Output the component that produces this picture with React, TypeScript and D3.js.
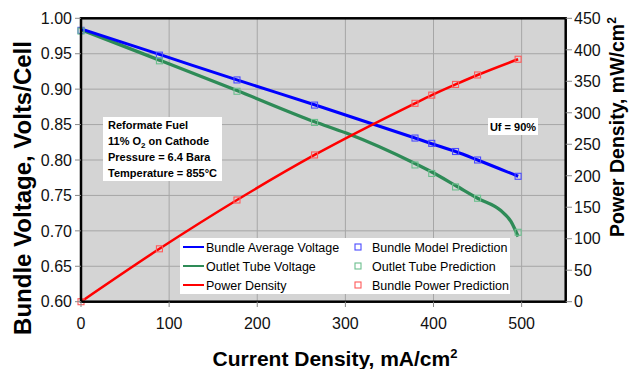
import React from "react";
import * as d3 from "d3";

// ---- data ----
const currentPts = [0, 89, 177, 265, 379, 398, 425, 450, 496];
const bundleModel = [0.983, 0.948, 0.913, 0.8775, 0.831, 0.8235, 0.812, 0.8, 0.777];
const outletPred = [0.982, 0.94, 0.897, 0.853, 0.793, 0.781, 0.762, 0.746, 0.698];
const powerPred = [0, 84, 161.5, 233, 315, 328, 345, 360, 385];

const bundleLineI = [0, 89, 177, 265, 379, 398, 425, 450, 496];
const bundleLineV = [0.985, 0.949, 0.913, 0.878, 0.831, 0.823, 0.812, 0.8, 0.777];
const outletLineI = [0, 89, 177, 265, 301, 379, 398, 425, 450, 476, 488, 496];
const outletLineV = [0.984, 0.941, 0.898, 0.854, 0.838, 0.795, 0.783, 0.764, 0.746, 0.729, 0.713, 0.692];
const powerLineI = [0, 89, 177, 265, 379, 398, 425, 450, 496];
const powerLineP = [0, 84, 161.5, 233, 315, 328, 345, 360, 385];

const xTicks = [0, 100, 200, 300, 400, 500];
const yLeftTicks = [0.6, 0.65, 0.7, 0.75, 0.8, 0.85, 0.9, 0.95, 1.0];
const yRightTicks = [0, 50, 100, 150, 200, 250, 300, 350, 400, 450];

const noteLines = ["Reformate Fuel", "11% O|2| on Cathode", "Pressure = 6.4 Bara", "Temperature = 855°C"];
const legendLines = [
  { label: "Bundle Average Voltage", color: "#0000ff" },
  { label: "Outlet Tube Voltage", color: "#2e8b57" },
  { label: "Power Density", color: "#ff0000" },
];
const legendMarkers = [
  { label: "Bundle Model Prediction", color: "#4a4aff" },
  { label: "Outlet Tube Prediction", color: "#6cbf8e" },
  { label: "Bundle Power Prediction", color: "#ff5a5a" },
];

const FONT = "'Liberation Sans', Arial, sans-serif";

export default function App() {
  const L = 81, R = 565.7, T = 18.3, B = 301.7;
  const x = d3.scaleLinear().domain([0, 550]).range([L, R]);
  const yL = d3.scaleLinear().domain([0.6, 1.0]).range([B, T]);
  const yR = d3.scaleLinear().domain([0, 450]).range([B, T]);

  const lineL = d3.line<[number, number]>().x(d => x(d[0])).y(d => yL(d[1])).curve(d3.curveMonotoneX);
  const lineR = d3.line<[number, number]>().x(d => x(d[0])).y(d => yR(d[1])).curve(d3.curveMonotoneX);

  const bundlePath = lineL(bundleLineI.map((v, i) => [v, bundleLineV[i]]));
  const outletPath = lineL(outletLineI.map((v, i) => [v, outletLineV[i]]));
  const powerPath = lineR(powerLineI.map((v, i) => [v, powerLineP[i]]));

  const sq = 6;
  const square = (cx: number, cy: number, color: string, key: string) => (
    <rect key={key} x={cx - sq / 2} y={cy - sq / 2} width={sq} height={sq} fill="none" stroke={color} strokeWidth={1.1} />
  );

  const renderNote = (s: string, i: number) => {
    const parts = s.split("|");
    return (
      <text key={i} x={108} y={129 + i * 16} fontSize={11} fontWeight="bold" fontFamily={FONT} fill="#000">
        {parts.length === 1 ? s : (
          <>
            {parts[0]}
            <tspan fontSize={8} dy={3}>{parts[1]}</tspan>
            <tspan dy={-3}>{parts[2]}</tspan>
          </>
        )}
      </text>
    );
  };

  return (
    <svg width={630} height={369} style={{ position: "absolute", left: 0, top: 0, background: "#fff" }}>
      {/* plot background */}
      <rect x={L} y={T} width={R - L} height={B - T} fill="#d4d4d4" />
      {/* grid */}
      {yLeftTicks.slice(1, -1).map(t => (
        <line key={"gh" + t} x1={L} x2={R} y1={yL(t)} y2={yL(t)} stroke="#a6a6a6" strokeWidth={1} />
      ))}
      {xTicks.slice(1).map(t => (
        <line key={"gv" + t} x1={x(t)} x2={x(t)} y1={T} y2={B} stroke="#a6a6a6" strokeWidth={1} />
      ))}

      {/* annotation boxes */}
      <rect x={103} y={117} width={119} height={64} fill="#fff" />
      {noteLines.map(renderNote)}
      <rect x={488} y={118} width={50} height={17} fill="#fff" />
      <text x={513} y={130.5} textAnchor="middle" fontSize={11} fontWeight="bold" fontFamily={FONT}>Uf = 90%</text>

      {/* legend */}
      <rect x={180} y={238} width={330} height={56} fill="#fff" />
      {legendLines.map((d, i) => (
        <g key={"ll" + i}>
          <line x1={183} x2={204} y1={247 + i * 19} y2={247 + i * 19} stroke={d.color} strokeWidth={2} />
          <text x={206} y={247 + i * 19} dy="0.36em" fontSize={12.5} fontFamily={FONT} fill="#000">{d.label}</text>
        </g>
      ))}
      {legendMarkers.map((d, i) => (
        <g key={"lm" + i}>
          {square(358, 247 + i * 19, d.color, "lms" + i)}
          <text x={372} y={247 + i * 19} dy="0.36em" fontSize={12.5} fontFamily={FONT} fill="#000">{d.label}</text>
        </g>
      ))}

      {/* lines */}
      <path d={outletPath || ""} fill="none" stroke="#2e8b57" strokeWidth={3.3} strokeLinejoin="round" />
      <path d={bundlePath || ""} fill="none" stroke="#0000ff" strokeWidth={3} strokeLinejoin="round" />
      <path d={powerPath || ""} fill="none" stroke="#ff0000" strokeWidth={2.5} strokeLinejoin="round" />

      {/* markers */}
      {currentPts.map((c, i) => square(x(c), yL(bundleModel[i]), "#4a4aff", "bm" + i))}
      {currentPts.map((c, i) => square(x(c), yL(outletPred[i]), "#6cbf8e", "op" + i))}
      {currentPts.map((c, i) => square(x(c), yR(powerPred[i]), "#ff5a5a", "pp" + i))}

      {/* frame */}
      <rect x={L} y={T} width={R - L} height={B - T} fill="none" stroke="#000" strokeWidth={2.5} />

      {/* left axis */}
      {yLeftTicks.map(t => (
        <g key={"yl" + t}>
          <line x1={75} x2={L} y1={yL(t)} y2={yL(t)} stroke="#888" strokeWidth={1} />
          <text x={72} y={yL(t)} dy="0.36em" textAnchor="end" fontSize={16} fontFamily={FONT} fill="#111">{t.toFixed(2)}</text>
        </g>
      ))}
      {/* right axis */}
      {yRightTicks.map(t => (
        <g key={"yr" + t}>
          <line x1={R} x2={572} y1={yR(t)} y2={yR(t)} stroke="#888" strokeWidth={1} />
          <text x={574} y={yR(t)} dy="0.36em" textAnchor="start" fontSize={16} fontFamily={FONT} fill="#111">{t}</text>
        </g>
      ))}
      {/* bottom axis */}
      {xTicks.map(t => (
        <g key={"xt" + t}>
          <line x1={x(t)} x2={x(t)} y1={B} y2={307} stroke="#888" strokeWidth={1} />
          <text x={x(t)} y={323} dy="0.36em" textAnchor="middle" fontSize={16} fontFamily={FONT} fill="#111">{t}</text>
        </g>
      ))}

      {/* axis titles */}
      <text transform="translate(31,188) rotate(-90)" textAnchor="middle" fontSize={24} fontWeight="bold" fontFamily={FONT} fill="#000">
        Bundle Voltage, Volts/Cell
      </text>
      <text transform="translate(624,127) rotate(-90)" textAnchor="middle" fontSize={19.5} fontWeight="bold" fontFamily={FONT} fill="#000">
        Power Density, mW/cm<tspan fontSize={12} dy={-8}>2</tspan>
      </text>
      <text x={335} y={366} textAnchor="middle" fontSize={21} fontWeight="bold" fontFamily={FONT} fill="#000">
        Current Density, mA/cm<tspan fontSize={13} dy={-8}>2</tspan>
      </text>
    </svg>
  );
}
